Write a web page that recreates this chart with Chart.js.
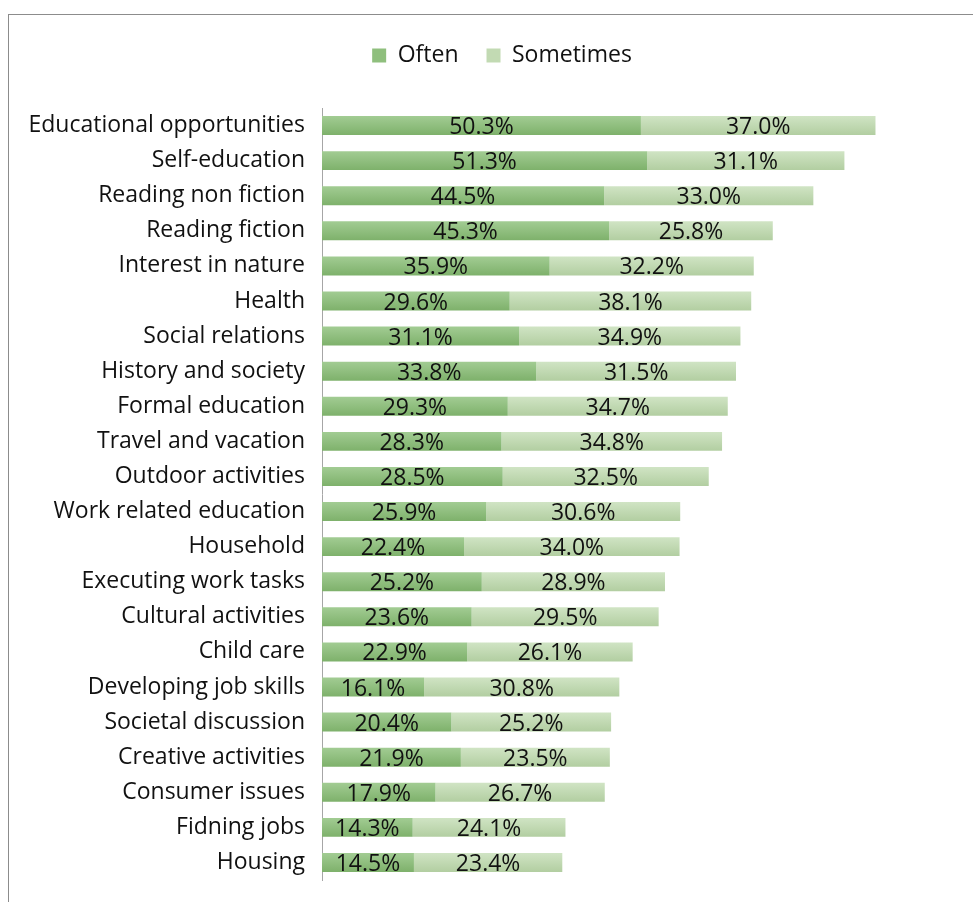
<!DOCTYPE html>
<html>
<head>
<meta charset="utf-8">
<script src="https://cdn.jsdelivr.net/npm/chart.js@4/dist/chart.umd.min.js"></script>
<style>
  html, body { margin: 0; padding: 0; background: #fff; }
  #frame { position: absolute; left: 8px; top: 14px; width: 1000px; height: 1000px;
           border-left: 1px solid #8c8c8c; border-top: 1px solid #8c8c8c; }
  #wrap { position: absolute; left: 0; top: 0; width: 973px; height: 902px; }
</style>
</head>
<body>
<div id="frame"></div>
<div id="wrap"><canvas id="topics"></canvas></div>
<script>
const topics = ['Educational opportunities', 'Self-education', 'Reading non fiction', 'Reading fiction',
  'Interest in nature', 'Health', 'Social relations', 'History and society', 'Formal education',
  'Travel and vacation', 'Outdoor activities', 'Work related education', 'Household',
  'Executing work tasks', 'Cultural activities', 'Child care', 'Developing job skills',
  'Societal discussion', 'Creative activities', 'Consumer issues', 'Fidning jobs', 'Housing'];
const often = [50.3, 51.3, 44.5, 45.3, 35.9, 29.6, 31.1, 33.8, 29.3, 28.3, 28.5, 25.9, 22.4, 25.2, 23.6, 22.9, 16.1, 20.4, 21.9, 17.9, 14.3, 14.5];
const sometimes = [37.0, 31.1, 33.0, 25.8, 32.2, 38.1, 34.9, 31.5, 34.7, 34.8, 32.5, 30.6, 34.0, 28.9, 29.5, 26.1, 30.8, 25.2, 23.5, 26.7, 24.1, 23.4];

const font = '"Open Sans", Lato, sans-serif';

// light-to-dark vertical shading on each bar, like the original
function shade(top, bottom) {
  return (c) => {
    const el = c.element;
    if (!el || el.y == null || !el.height) return bottom;
    const g = c.chart.ctx.createLinearGradient(0, el.y - el.height / 2, 0, el.y + el.height / 2);
    g.addColorStop(0, top);
    g.addColorStop(1, bottom);
    return g;
  };
}

// write the percentage in the middle of each bar segment
const barLabels = {
  id: 'barLabels',
  afterDatasetsDraw(chart) {
    const ctx = chart.ctx;
    ctx.save();
    ctx.font = '23px ' + font;
    ctx.fillStyle = '#111';
    ctx.textAlign = 'center';
    ctx.textBaseline = 'middle';
    chart.data.datasets.forEach((ds, i) => {
      chart.getDatasetMeta(i).data.forEach((bar, j) => {
        ctx.fillText(ds.data[j].toFixed(1) + '%', (bar.x + bar.base) / 2, bar.y + 2);
      });
    });
    ctx.restore();
  }
};

// leave a gap under the legend and centre it a bit to the right, as in the original
const legendGap = {
  id: 'legendGap',
  beforeInit(chart) {
    const fit = chart.legend.fit;
    chart.legend.fit = function () {
      fit.call(this);
      this.height += 31;
    };
  },
  afterLayout(chart) {
    chart.legend.left += 16;
    chart.legend.right += 16;
  }
};

const chart = new Chart(document.getElementById('topics'), {
  type: 'bar',
  data: {
    labels: topics,
    datasets: [
      { label: 'Often', data: often, backgroundColor: shade('#a2cc93', '#7eb16b') },
      { label: 'Sometimes', data: sometimes, backgroundColor: shade('#d0e4c4', '#b2cea1') }
    ]
  },
  options: {
    indexAxis: 'y',
    responsive: true,
    maintainAspectRatio: false,
    animation: false,
    barPercentage: 0.54,
    categoryPercentage: 1,
    layout: { padding: { left: 16, right: 17, top: 16, bottom: 22 } },
    plugins: {
      legend: {
        labels: {
          font: { size: 23, family: font },
          color: '#111',
          boxWidth: 14,
          boxHeight: 14,
          padding: 28,
          generateLabels(c) {
            return c.data.datasets.map((ds, i) => ({
              text: ds.label, datasetIndex: i, lineWidth: 0,
              fillStyle: i === 0 ? '#8fbf7d' : '#c2dab3', strokeStyle: 'transparent', fontColor: '#111'
            }));
          }
        }
      },
      tooltip: { enabled: false }
    },
    scales: {
      x: {
        stacked: true,
        min: 0,
        max: 100,
        display: false
      },
      y: {
        stacked: true,
        grid: { display: false, drawTicks: false },
        border: { display: true, color: '#a6a6a6', width: 1 },
        ticks: { font: { size: 23, family: font }, color: '#111', padding: 17 },
        afterFit(scale) {
          scale.width = 306;
          scale.paddingTop = 0;
          scale.paddingBottom = 0;
        }
      }
    }
  },
  plugins: [barLabels, legendGap]
});
chart.update();
</script>
</body>
</html>
